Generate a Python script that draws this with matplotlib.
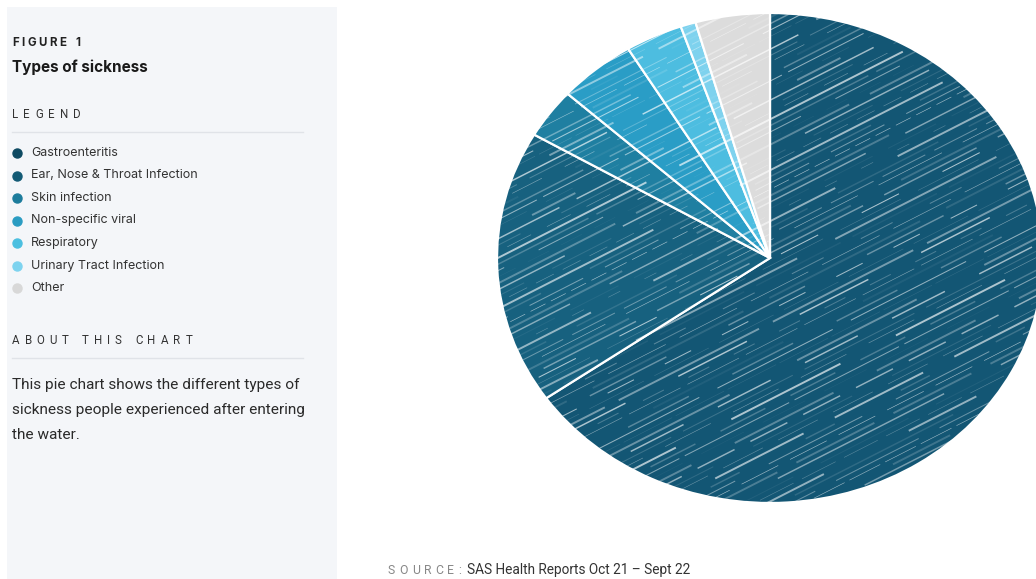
import numpy as np
import matplotlib
matplotlib.use("Agg")
import matplotlib.pyplot as plt
from matplotlib.patches import Rectangle, Ellipse
from matplotlib.collections import LineCollection

# Categories and share of cases (%)
categorias = ["Gastroenteritis", "Ear, Nose & Throat Infection", "Skin infection",
              "Non-specific viral", "Respiratory", "Urinary Tract Infection", "Other"]
valores = [65.3, 18.1, 3.3, 4.6, 3.4, 0.9, 4.4]
cores = ["#135674", "#17617f", "#1f7fa1", "#2a9dc6", "#4dbde0", "#7ed2ee", "#dcdcdc"]
cores_legenda = ["#0e4a62", "#125a75", "#1d7c9c", "#2a9cc2", "#4bbfe0", "#7dd3ef", "#d8d8d8"]

titulo = "Types of sickness"
descricao = ["This pie chart shows the different types of",
             "sickness people experienced after entering",
             "the water."]
fonte = "SAS Health Reports Oct 21 \u2013 Sept 22"

W, H = 1036, 579
fig = plt.figure(figsize=(W / 100, H / 100), dpi=100)
fig.patch.set_facecolor("white")
renderer = fig.canvas.get_renderer()


def px(x, y):
    return x / W, 1 - y / H


def espacado(x, y, s, track, **kw):
    # texto com espacamento extra entre letras (tracking em px)
    pos = x
    for ch in s:
        t = fig.text(*px(pos, y), ch if ch != " " else "n", va="center", ha="left", **kw)
        larg = t.get_window_extent(renderer).width
        if ch == " ":
            t.remove()
            larg *= 0.5
        pos += larg + track


# painel lateral
fig.add_artist(Rectangle(px(7, 590), 330 / W, 583 / H, transform=fig.transFigure,
                         facecolor="#f4f6f9", edgecolor="none", zorder=0))

espacado(12, 43, "FIGURE 1", 2.6, fontsize=8.3, fontweight="bold", color="#222222",
         family="Inter")
fig.text(*px(12, 67), titulo, fontsize=11, fontweight="bold", color="#1a1a1a",
         va="center", family="Inter")

espacado(12, 115, "LEGEND", 5.2, fontsize=8.3, color="#333333", family="Roboto")
fig.add_artist(plt.Line2D([12 / W, 303 / W], [1 - 132 / H] * 2, color="#e0e3e8",
                          lw=1, transform=fig.transFigure))

for i, (nome, c) in enumerate(zip(categorias, cores_legenda)):
    y = 153 + i * 22.5
    fig.add_artist(plt.Line2D([17 / W], [1 - y / H], marker="o", markersize=6.5,
                              color=c, transform=fig.transFigure))
    fig.text(*px(31, y), nome, fontsize=9.0, color="#333333", va="center",
             family="Inter")

espacado(12, 341, "ABOUT THIS CHART", 5.0, fontsize=8.3, color="#333333",
         family="Roboto")
fig.add_artist(plt.Line2D([12 / W, 303 / W], [1 - 358 / H] * 2, color="#e0e3e8",
                          lw=1, transform=fig.transFigure))

for i, linha in enumerate(descricao):
    fig.text(*px(12, 385 + i * 25), linha, fontsize=11.1, color="#2a2a2a",
             va="center", family="Roboto")

espacado(388, 570, "SOURCE:", 4.0, fontsize=8.8, color="#888888", family="Roboto")
fig.text(*px(467, 570), fonte, fontsize=9.8, color="#333333", va="center",
         family="Roboto")

# pizza (eliptica: centro 770,258; raios 273 x 245 px)
cx, cy, rx, ry = 770, 258, 273, 245
ax = fig.add_axes([(cx - rx) / W, (H - cy - ry) / H, 2 * rx / W, 2 * ry / H])
wedges, _ = ax.pie(valores, colors=cores, startangle=90, counterclock=False,
                   radius=1, wedgeprops=dict(edgecolor="white", linewidth=1.6))
ax.set_aspect("auto")
ax.set_xlim(-1, 1)
ax.set_ylim(-1, 1)
ax.axis("off")

# textura de riscos claros na diagonal
incl = np.tan(np.radians(27)) * rx / ry
offs = np.arange(-1.8, 1.8, 0.026)
segs, alfas, larg, estilos = [], [], [], []
for i, c in enumerate(offs):
    segs.append([(-1.1, c - 1.1 * incl), (1.1, c + 1.1 * incl)])
    alfas.append(0.06 + 0.6 * ((i * 7) % 11) / 10)
    larg.append(0.4 + 1.0 * ((i * 5) % 4) / 3)
    estilos.append(((i * 17) % 40, (20 + (i * 29) % 110, 6 + (i * 13) % 45)))
cores_riscos = [(1, 1, 1, a) for a in alfas]
lc = LineCollection(segs, colors=cores_riscos, linewidths=larg, linestyles=estilos)
ax.add_collection(lc)
elipse = Ellipse((0, 0), 2, 2, transform=ax.transData)
lc.set_clip_path(elipse)

fig.savefig("out.png", dpi=100, facecolor="white")
